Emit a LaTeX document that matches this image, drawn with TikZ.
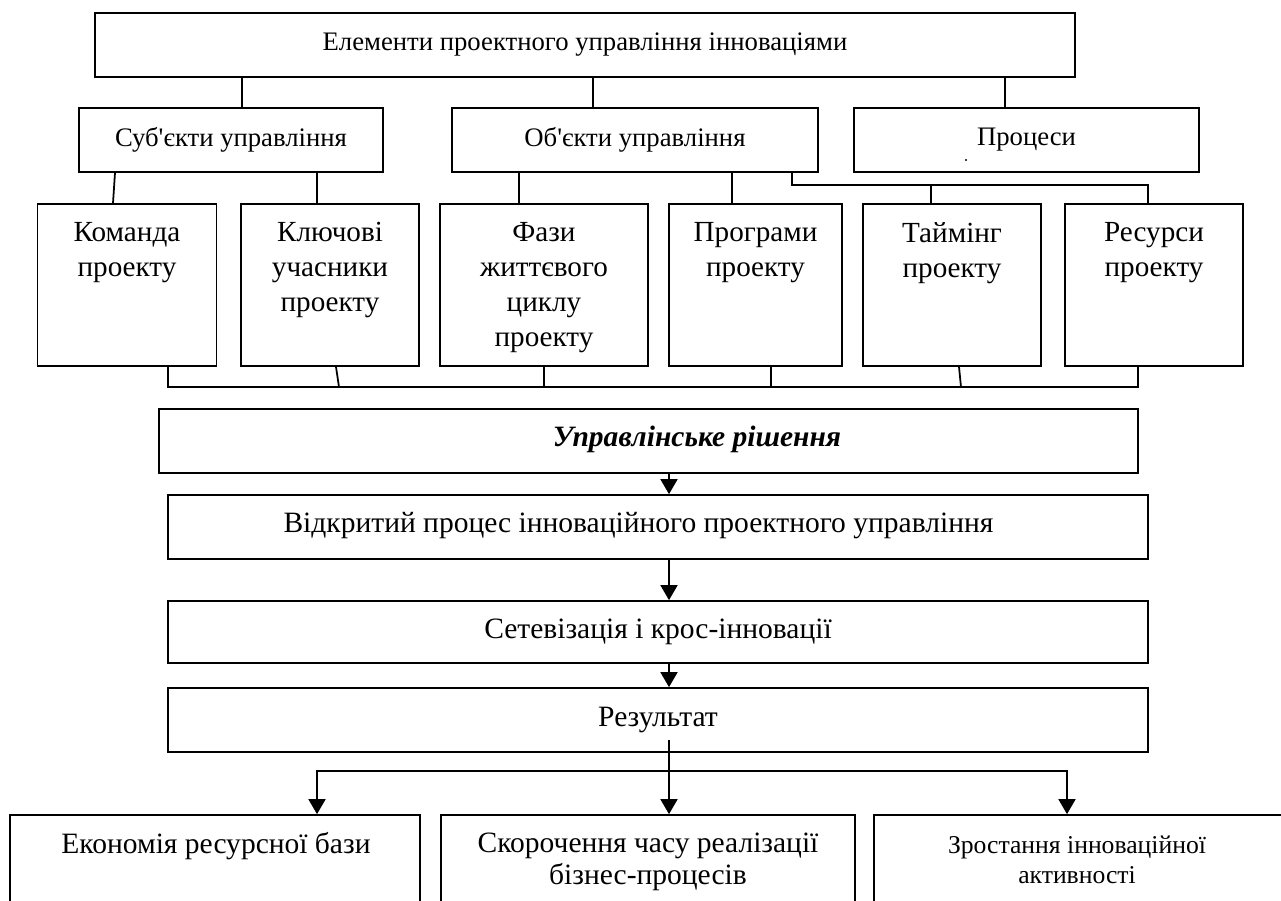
\documentclass[tikz,border=0pt]{standalone}
\usepackage{fontspec}
\setmainfont{Liberation Serif}
\usetikzlibrary{arrows.meta}

\begin{document}
\begin{tikzpicture}[x=0.02cm, y=-0.02cm,
	box/.style={draw, line width=1pt, inner sep=0pt, minimum height=1.28cm},
	kasten/.style={draw, line width=1pt, inner sep=0pt},
	linie/.style={line width=1pt},
	pfeil/.style={line width=1pt, -{Triangle[length=0.3cm, width=0.34cm]}},
	fA/.style={font=\fontsize{15.2}{18}\selectfont},
	fB/.style={font=\fontsize{16.6}{19.9}\selectfont, align=center, inner sep=0pt},
	fC/.style={font=\fontsize{16.8}{18.4}\selectfont, align=center, inner sep=0pt}]

	\useasboundingbox (0,0) rectangle (1281,900);
	\clip (0,0) rectangle (1281,900);

	% Kopf
	\node[box, fA, minimum width=19.6cm] (top) at (585,45) {Елементи проектного управління інноваціями};

	% Zweite Ebene
	\node[box, fA, minimum width=6.08cm] (subj) at (231,140) {Суб\textquotesingle єкти управління};
	\node[box, fA, minimum width=7.32cm] (obj) at (635,140) {Об\textquotesingle єкти управління};
	\node[box, fA, minimum width=6.9cm] (proc) at (1026.5,140) {Процеси};
	\fill (966,160) circle (1.2);

	\draw[linie] (top.south -| 242,0) -- (subj.north -| 242,0);
	\draw[linie] (top.south -| 593,0) -- (obj.north -| 593,0);
	\draw[linie] (top.south -| 1005,0) -- (proc.north -| 1005,0);

	% Elemente (Text oben)
	\foreach \n/\x/\w/\txt in {team/127/3.58cm/{Команда\\проекту},
			key/330/3.56cm/{Ключові\\учасники\\проекту},
			phase/544/4.16cm/{Фази\\життєвого\\циклу\\проекту},
			prog/755.5/3.46cm/{Програми\\проекту},
			time/952/3.56cm/{Таймінг\\проекту},
			res/1154/3.56cm/{Ресурси\\проекту}} {
		\node[kasten, minimum width=\w, minimum height=3.24cm] (\n) at (\x,285) {};
		\node[fB, anchor=north] (\n-t) at ([yshift=-0.38cm]\n.north) {\txt};
	}

	\draw[linie] (subj.south -| 115,0) -- (team.north -| 113,0);
	\draw[linie] (subj.south -| 317,0) -- (key.north -| 317,0);
	\draw[linie] (obj.south -| 519,0) -- (phase.north -| 519,0);
	\draw[linie] (obj.south -| 732,0) -- (prog.north -| 732,0);
	\draw[linie] (obj.south -| 792,0) -- (792,185) -| (res.north -| 1148,0);
	\draw[linie] (time.north -| 931,0) -- (931,185);

	% Sammelleitung
	\draw[linie] (team.south -| 168,0) -- (168,387) -- (1138,387) -- (res.south -| 1138,0);
	\foreach \n/\a/\b in {key/336/339, phase/544/544, prog/771/771, time/959/961}
		\draw[linie] (\n.south -| \a,0) -- (\b,387);

	% Mittlere Kette
	\node[box, minimum width=19.58cm] (dec) at (648.5,441) {};
	\node[fC, font={\fontsize{16.8}{18.4}\selectfont\bfseries\itshape}] (dec-t) at (697,439) {Управлінське рішення};
	\node[box, minimum width=19.6cm] (open) at (658,527) {};
	\node[fC] (open-t) at (638.5,526) {Відкритий процес інноваційного проектного управління};
	\node[box, fC, minimum width=19.6cm, minimum height=1.24cm] (net) at (658,632) {Сетевізація і крос-інновації};
	\node[box, fC, minimum width=19.6cm] (result) at (658,720) {Результат};

	\draw[pfeil] (dec.south -| 669,0) -- (open.north -| 669,0);
	\draw[pfeil] (open.south -| 669,0) -- (net.north -| 669,0);
	\draw[pfeil] (net.south -| 669,0) -- (result.north -| 669,0);

	% Ergebnisse
	\node[kasten, minimum width=8.2cm, minimum height=2.4cm] (econ) at (215,875) {};
	\node[kasten, minimum width=8.28cm, minimum height=2.4cm] (speed) at (648,875) {};
	\node[kasten, minimum width=8.4cm, minimum height=2.4cm] (growth) at (1084,875) {};
	\node[fC] (econ-t) at (216,846) {Економія ресурсної бази};
	\node[fC] (speed-t) at (648,862) {Скорочення часу реалізації\\бізнес-процесів};
	\node[fC, font=\fontsize{14.6}{17.4}\selectfont] (growth-t) at (1077,860) {Зростання інноваційної\\активності};

	\coordinate (fork) at (669,771);
	\draw[pfeil, shorten <=-0.26cm] (result.south -| 669,0) -- (speed.north -| 669,0);
	\draw[pfeil] (fork) -| (econ.north -| 317,0);
	\draw[pfeil] (fork) -| (growth.north -| 1067,0);
\end{tikzpicture}
\end{document}
